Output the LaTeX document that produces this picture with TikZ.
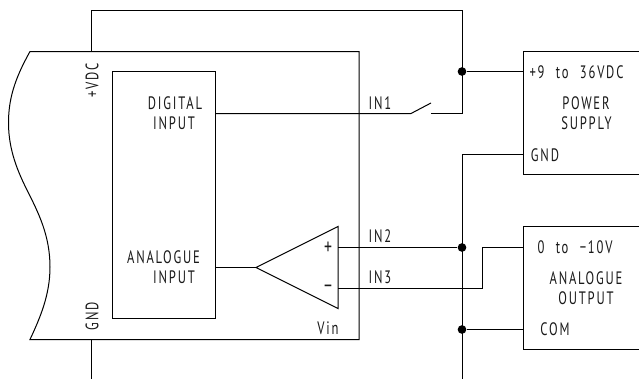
\documentclass[tikz,border=0pt]{standalone}
\usepackage{fontspec}
\newfontfamily\isofont[LetterSpace=10,FakeStretch=0.7,WordSpace=2.2]{PT Sans}
\tikzset{
    wire/.style={line width=0.75pt},
    label/.style={font=\isofont\fontsize{13.5}{14}\selectfont,inner sep=0pt,text=black!90},
    junction/.style={circle,fill=black,inner sep=0pt,minimum size=6.5pt}
}
\begin{document}
\begin{tikzpicture}[x=0.75pt,y=-0.75pt]

\useasboundingbox (0,0) rectangle (639,379);

% points of the wires
\coordinate (top1) at (91.5,51.5);
\coordinate (top2) at (91.5,10.5);
\coordinate (top3) at (462,10.5);
\coordinate (sw1) at (411,113.5);
\coordinate (sw2) at (431,103);
\coordinate (sw3) at (431,113.5);
\coordinate (sw4) at (462,113.5);
\coordinate (in1) at (215,113.5);
\coordinate (vplus) at (523,71.5);
\coordinate (gnd1) at (523,154.5);
\coordinate (gnd2) at (462,154.5);
\coordinate (gnd3) at (462,379);
\coordinate (low1) at (91.5,339.5);
\coordinate (low2) at (91.5,379);
\coordinate (apex) at (256,267.5);
\coordinate (adc) at (215,267.5);
\coordinate (plus) at (338,247.5);
\coordinate (minus) at (338,288.5);
\coordinate (step1) at (482.5,288.5);
\coordinate (step2) at (482.5,247.5);
\coordinate (out) at (523,247.5);
\coordinate (com) at (523,329.5);

% junctions
\node[junction] (j1) at (462,71.5) {};
\node[junction] (j2) at (462,247.5) {};
\node[junction] (j3) at (462,329.5) {};

% unit, cut on the left
\draw[wire] (30,51.5) .. controls (14,80) and (8.5,100) .. (8.5,123)
    .. controls (8.5,150) and (18,172) .. (27,190)
    .. controls (38,212) and (50,235) .. (50,267)
    .. controls (50,295) and (40,318) .. (30,339.5)
    -- (359,339.5) -- (359,51.5) -- cycle;

% blocks
\draw[wire] (112,71.5) rectangle (215,318.5);
\draw[wire] (639,51.5) -- (523,51.5) -- (523,174.5) -- (639,174.5);
\draw[wire] (639,226.5) -- (523,226.5) -- (523,349.5) -- (639,349.5);

% amplifier
\draw[wire] (apex) -- (338,226.5) -- (338,308.5) -- cycle;

% lines
\draw[wire] (top1) -- (top2) -- (top3) -- (sw4) -- (sw3);
\draw[wire] (in1) -- (sw1) -- (sw2);
\draw[wire] (j1) -- (vplus);
\draw[wire] (gnd1) -- (gnd2) -- (gnd3);
\draw[wire] (low1) -- (low2);
\draw[wire] (adc) -- (apex);
\draw[wire] (plus) -- (j2);
\draw[wire] (minus) -- (step1) -- (step2) -- (out);
\draw[wire] (j3) -- (com);

% text
\node[label,rotate=90] (tvdc) at (92,80) {+VDC};
\node[label,rotate=90] (tgnd) at (92,316) {GND};
\node[label] (tdig) at (175,103) {DIGITAL};
\node[label] (tdin) at (174,123) {INPUT};
\node[label] (tana) at (163.5,257) {ANALOGUE};
\node[label] (tain) at (174,277.5) {INPUT};
\node[label] (tin1) at (380,103) {IN1};
\node[label] (tin2) at (380,236.5) {IN2};
\node[label] (tin3) at (380,277.5) {IN3};
\node[label,scale=1.25] (tplus) at (328,248) {+};
\node[label,scale=1.25] (tminus) at (328,289) {−};
\node[label] (tvin) at (328,328) {Vin};
\node[label] (tsup) at (576.5,72) {+9 to 36VDC};
\node[label] (tpow) at (586,103) {POWER};
\node[label] (tsp) at (586.5,123) {SUPPLY};
\node[label] (tg) at (545,155) {GND};
\node[label] (tout) at (575,247) {0 to −10V};
\node[label] (taa) at (586,278) {ANALOGUE};
\node[label] (tao) at (586,298.5) {OUTPUT};
\node[label] (tcom) at (555,329) {COM};

\end{tikzpicture}
\end{document}
